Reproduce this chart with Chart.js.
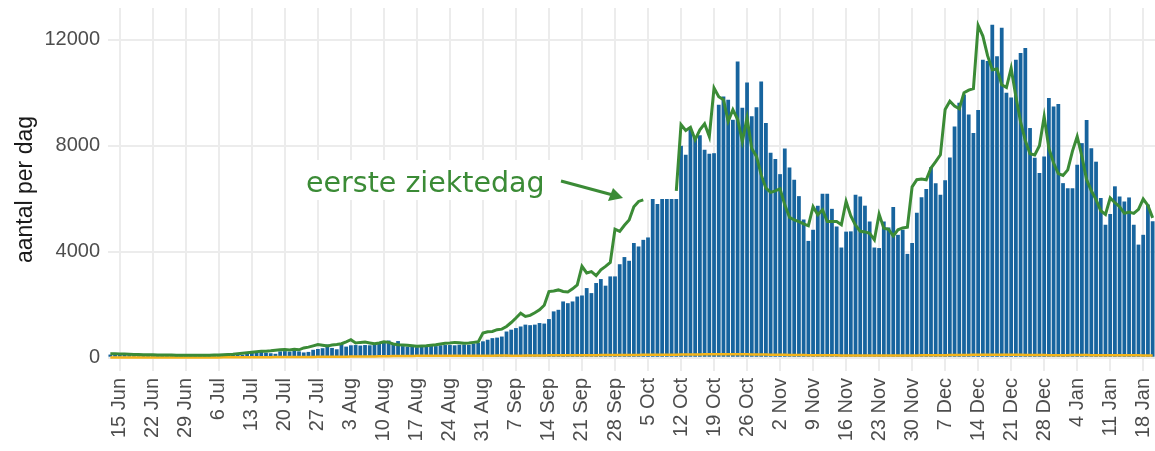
<!DOCTYPE html>
<html>
<head>
<meta charset="utf-8">
<script src="https://cdn.jsdelivr.net/npm/chart.js@4.4.1/dist/chart.umd.min.js"></script>
<style>
  html, body { margin: 0; padding: 0; background: #fff; }
</style>
</head>
<body>
<canvas id="chart" width="1155" height="451"></canvas>
<script>
// first day shown is 13 Jun, one value per day up to 20 Jan
const startDay = new Date(2020, 5, 13);
const MONTHS = ["Jan", "Feb", "Mar", "Apr", "May", "Jun", "Jul", "Aug", "Sep", "Oct", "Nov", "Dec"];

// Labels shown on the x axis (Mondays)
const tickLabels = [
    "15 Jun", "22 Jun", "29 Jun", "6 Jul", "13 Jul", "20 Jul", "27 Jul", "3 Aug",
    "10 Aug", "17 Aug", "24 Aug", "31 Aug", "7 Sep", "14 Sep", "21 Sep", "28 Sep",
    "5 Oct", "12 Oct", "19 Oct", "26 Oct", "2 Nov", "9 Nov", "16 Nov", "23 Nov",
    "30 Nov", "7 Dec", "14 Dec", "21 Dec", "28 Dec", "4 Jan", "11 Jan", "18 Jan"
];

const yTicks = [0, 4000, 8000, 12000];

// Daily reported cases (blue bars)
const meldingen = [
    120, 110, 130, 110, 100, 90, 80, 100, 110, 100,
    90, 100, 80, 70, 90, 100, 90, 80, 90, 100,
    80, 70, 90, 120, 130, 150, 140, 120, 110, 180,
    190, 200, 220, 190, 170, 150, 240, 250, 230, 260,
    240, 200, 220, 300, 330, 360, 500, 370, 320, 550,
    420, 470, 480, 460, 480, 470, 520, 560, 600, 650,
    540, 630, 440, 420, 430, 400, 430, 420, 460, 440,
    470, 480, 480, 470, 490, 500, 490, 540, 560, 620,
    680, 740, 760, 800, 990, 1060, 1120, 1180, 1250, 1230,
    1250, 1310, 1290, 1460, 1750, 1810, 2125, 2060, 2125, 2310,
    2350, 2630, 2440, 2820, 2970, 2720, 3070, 3070, 3530, 3800,
    3660, 4330, 4200, 4450, 4540, 5990, 5800, 5990, 5990, 5990,
    5990, 8000, 7660, 8600, 8350, 8400, 7850, 7700, 7720, 9550,
    9860, 9740, 8980, 11180, 9440, 10390, 9110, 9450, 10430, 8860,
    7740, 7500, 6930, 7900, 7180, 6720, 6100, 5220, 4410, 4830,
    5740, 6190, 6190, 5620, 4950, 4160, 4760, 4770, 6150, 6090,
    5740, 5140, 4160, 4140, 5140, 4920, 5690, 4640, 4830, 3920,
    4330, 5470, 6060, 6370, 7190, 6590, 6150, 6700, 7560, 8730,
    9620, 9940, 9180, 8480, 9350, 11250, 11200, 12570, 11380, 12450,
    10000, 9820, 11250, 11500, 11690, 8670, 7550, 6970, 7600, 9800,
    9480, 9580, 6590, 6400, 6400, 7280, 8100, 8970, 7910, 7400,
    6030, 5020, 5430, 6470, 6090, 5900, 6050, 5020, 4270, 4640,
    5780, 5150
];

// By first day of illness (green line), hidden under the label between 6 and 11 Oct
const eersteZiektedag = [
    150, 150, 140, 140, 130, 120, 120, 110, 110, 110,
    100, 100, 100, 100, 90, 90, 90, 90, 90, 90,
    90, 90, 100, 100, 110, 120, 130, 150, 170, 190,
    210, 230, 250, 250, 260, 280, 300, 310, 290, 320,
    300, 370, 400, 450, 500, 470, 440, 480, 500, 530,
    600, 680, 560, 580, 590, 560, 530, 560, 600, 580,
    520, 490, 480, 470, 450, 430, 440, 450, 470, 490,
    520, 550, 560, 580, 570, 550, 560, 580, 600, 930,
    980, 990, 1060, 1080, 1180, 1330, 1500, 1680, 1560, 1600,
    1700, 1810, 1980, 2500, 2520, 2560, 2500, 2480, 2600, 2750,
    3450, 3200, 3250, 3100, 3320, 3450, 3600, 4850, 4770, 5000,
    5200, 5700, 5900, 5960, null, null, null, null, null, null,
    6300, 8800, 8580, 8700, 8230, 8600, 8830, 8350, 10180, 9850,
    9740, 8920, 9360, 9000, 8160, 9050, 7900, 7600, 6900, 6400,
    6240, 6300, 6380, 5770, 5300, 5200, 5140, 5050, 4980, 5700,
    5400, 5590, 5140, 5140, 5140, 5020, 5900, 5350, 5000, 4770,
    4750, 4700, 4450, 5420, 4890, 4850, 4600, 4830, 4900, 4930,
    6450, 6720, 6750, 6720, 7160, 7400, 7660, 9370, 9680, 9500,
    9400, 10000, 10100, 10160, 12540, 12140, 11400, 10870, 10900, 10300,
    10200, 10930, 9860, 8900, 8200, 7700, 7650, 8000, 9100, 7900,
    7350, 6950, 6880, 7090, 7800, 8350, 7600, 6720, 6300, 5970,
    5550, 5410, 6030, 5850, 5700, 5450, 5500, 5450, 5600, 5990,
    5750, 5280
];

// Small orange series along the bottom
const overig = [
    10, 10, 10, 10, 10, 10, 10, 10, 10, 10,
    10, 10, 10, 10, 10, 10, 10, 10, 10, 10,
    10, 10, 10, 10, 15, 15, 15, 15, 15, 15,
    20, 20, 20, 20, 20, 25, 25, 25, 25, 25,
    30, 30, 30, 30, 35, 35, 35, 40, 40, 40,
    40, 45, 45, 45, 50, 50, 50, 55, 60, 60,
    65, 65, 70, 70, 70, 75, 75, 75, 80, 80,
    80, 80, 80, 80, 80, 80, 75, 75, 75, 80,
    80, 80, 85, 85, 85, 80, 80, 80, 85, 85,
    85, 85, 85, 90, 90, 90, 90, 90, 90, 95,
    95, 95, 95, 95, 100, 100, 100, 100, 100, 105,
    105, 105, 105, 110, 110, 110, 110, 110, 110, 115,
    115, 120, 120, 125, 125, 125, 130, 130, 130, 130,
    135, 135, 135, 130, 130, 130, 125, 125, 120, 120,
    115, 115, 110, 110, 105, 105, 100, 100, 95, 95,
    95, 90, 90, 90, 90, 85, 85, 85, 85, 85,
    85, 85, 85, 85, 85, 85, 85, 85, 85, 85,
    85, 85, 90, 90, 90, 95, 95, 95, 100, 100,
    100, 105, 105, 110, 110, 110, 115, 115, 115, 115,
    115, 110, 110, 110, 105, 105, 100, 100, 100, 95,
    95, 95, 95, 95, 100, 100, 100, 100, 95, 95,
    95, 90, 90, 90, 90, 90, 90, 90, 90, 85,
    85, 85
];

// Build the day labels ("13 Jun" ... "20 Jan")
const days = meldingen.map((v, i) => {
    const d = new Date(startDay.getFullYear(), startDay.getMonth(), startDay.getDate() + i);
    return d.getDate() + " " + MONTHS[d.getMonth()];
});

const GREEN = '#3b8b36';

// White label box, text and arrow for the green line
const ziektedagLabel = {
    id: 'ziektedagLabel',
    beforeDatasetsDraw: (chart) => {
        const ctx = chart.ctx;
        ctx.save();
        ctx.fillStyle = '#ffffff';
        ctx.fillRect(300, 160, 378, 40);
        ctx.restore();
    },
    afterDatasetsDraw: (chart) => {
        const ctx = chart.ctx;
        ctx.save();
        ctx.font = '28.5px "DejaVu Sans"';
        ctx.fillStyle = GREEN;
        ctx.textBaseline = 'alphabetic';
        ctx.fillText('eerste ziektedag', 306, 192);

        // arrow
        ctx.strokeStyle = GREEN;
        ctx.lineWidth = 3;
        ctx.beginPath();
        ctx.moveTo(561, 181);
        ctx.lineTo(611, 194.5);
        ctx.stroke();
        ctx.beginPath();
        ctx.moveTo(623, 198);
        ctx.lineTo(608, 201);
        ctx.lineTo(613, 188);
        ctx.closePath();
        ctx.fill();
        ctx.restore();
    }
};

// no extra room for the outer tick labels
function noPadding(scale) {
    scale.paddingLeft = 0;
    scale.paddingRight = 0;
    scale.paddingTop = 0;
    scale.paddingBottom = 0;
}

function initChart() {
    const c = document.getElementById('chart').getContext('2d');

    new Chart(c, {
        type: 'bar',
        data: {
            labels: days,
            datasets: [
                {
                    type: 'line',
                    label: 'eerste ziektedag',
                    data: eersteZiektedag,
                    borderColor: GREEN,
                    borderWidth: 3,
                    pointRadius: 0,
                    tension: 0,
                    spanGaps: false,
                    order: 1,
                },
                {
                    type: 'line',
                    label: 'overig',
                    data: overig,
                    borderColor: '#f4b41a',
                    borderWidth: 2.5,
                    pointRadius: 0,
                    tension: 0,
                    order: 2,
                },
                {
                    label: 'meldingen',
                    data: meldingen,
                    backgroundColor: '#17649e',
                    barPercentage: 0.8,
                    categoryPercentage: 1.0,
                    order: 3,
                }
            ]
        },
        options: {
            responsive: false,
            animation: false,
            layout: { padding: { top: 8, right: 0, bottom: 0, left: 0 } },
            plugins: {
                legend: { display: false },
                tooltip: { enabled: false },
            },
            scales: {
                x: {
                    grid: {
                        offset: false,
                        drawTicks: false,
                        lineWidth: 2,
                        color: (ctx) => tickLabels.includes(days[ctx.index]) ? '#ececec' : 'rgba(0,0,0,0)',
                    },
                    border: { display: false },
                    ticks: {
                        autoSkip: false,
                        minRotation: 90,
                        maxRotation: 90,
                        padding: 7,
                        color: '#4d4d4d',
                        font: { family: '"Liberation Sans", Arial, sans-serif', size: 20 },
                        callback: function (value) {
                            const lab = this.getLabelForValue(value);
                            return tickLabels.includes(lab) ? lab : '';
                        }
                    },
                    afterFit: (scale) => {
                        scale.height = 80;
                        noPadding(scale);
                    }
                },
                y: {
                    min: -500,
                    max: 13200,
                    grid: {
                        drawTicks: false,
                        lineWidth: 2,
                        color: '#ececec',
                    },
                    border: { display: false },
                    ticks: {
                        padding: 8,
                        color: '#4d4d4d',
                        font: { family: '"Liberation Sans", Arial, sans-serif', size: 20 },
                        callback: (value) => String(value),
                    },
                    afterBuildTicks: (scale) => {
                        scale.ticks = yTicks.map(v => ({ value: v }));
                    },
                    title: {
                        display: true,
                        text: 'aantal per dag',
                        color: '#1a1a1a',
                        padding: { top: 12, bottom: 0 },
                        font: { family: '"Liberation Sans", Arial, sans-serif', size: 23 },
                    },
                    afterFit: (scale) => {
                        scale.width = 108;
                        noPadding(scale);
                    }
                }
            }
        },
        plugins: [ziektedagLabel]
    });
}

document.addEventListener("DOMContentLoaded", function () {
    initChart();
});
</script>
</body>
</html>
